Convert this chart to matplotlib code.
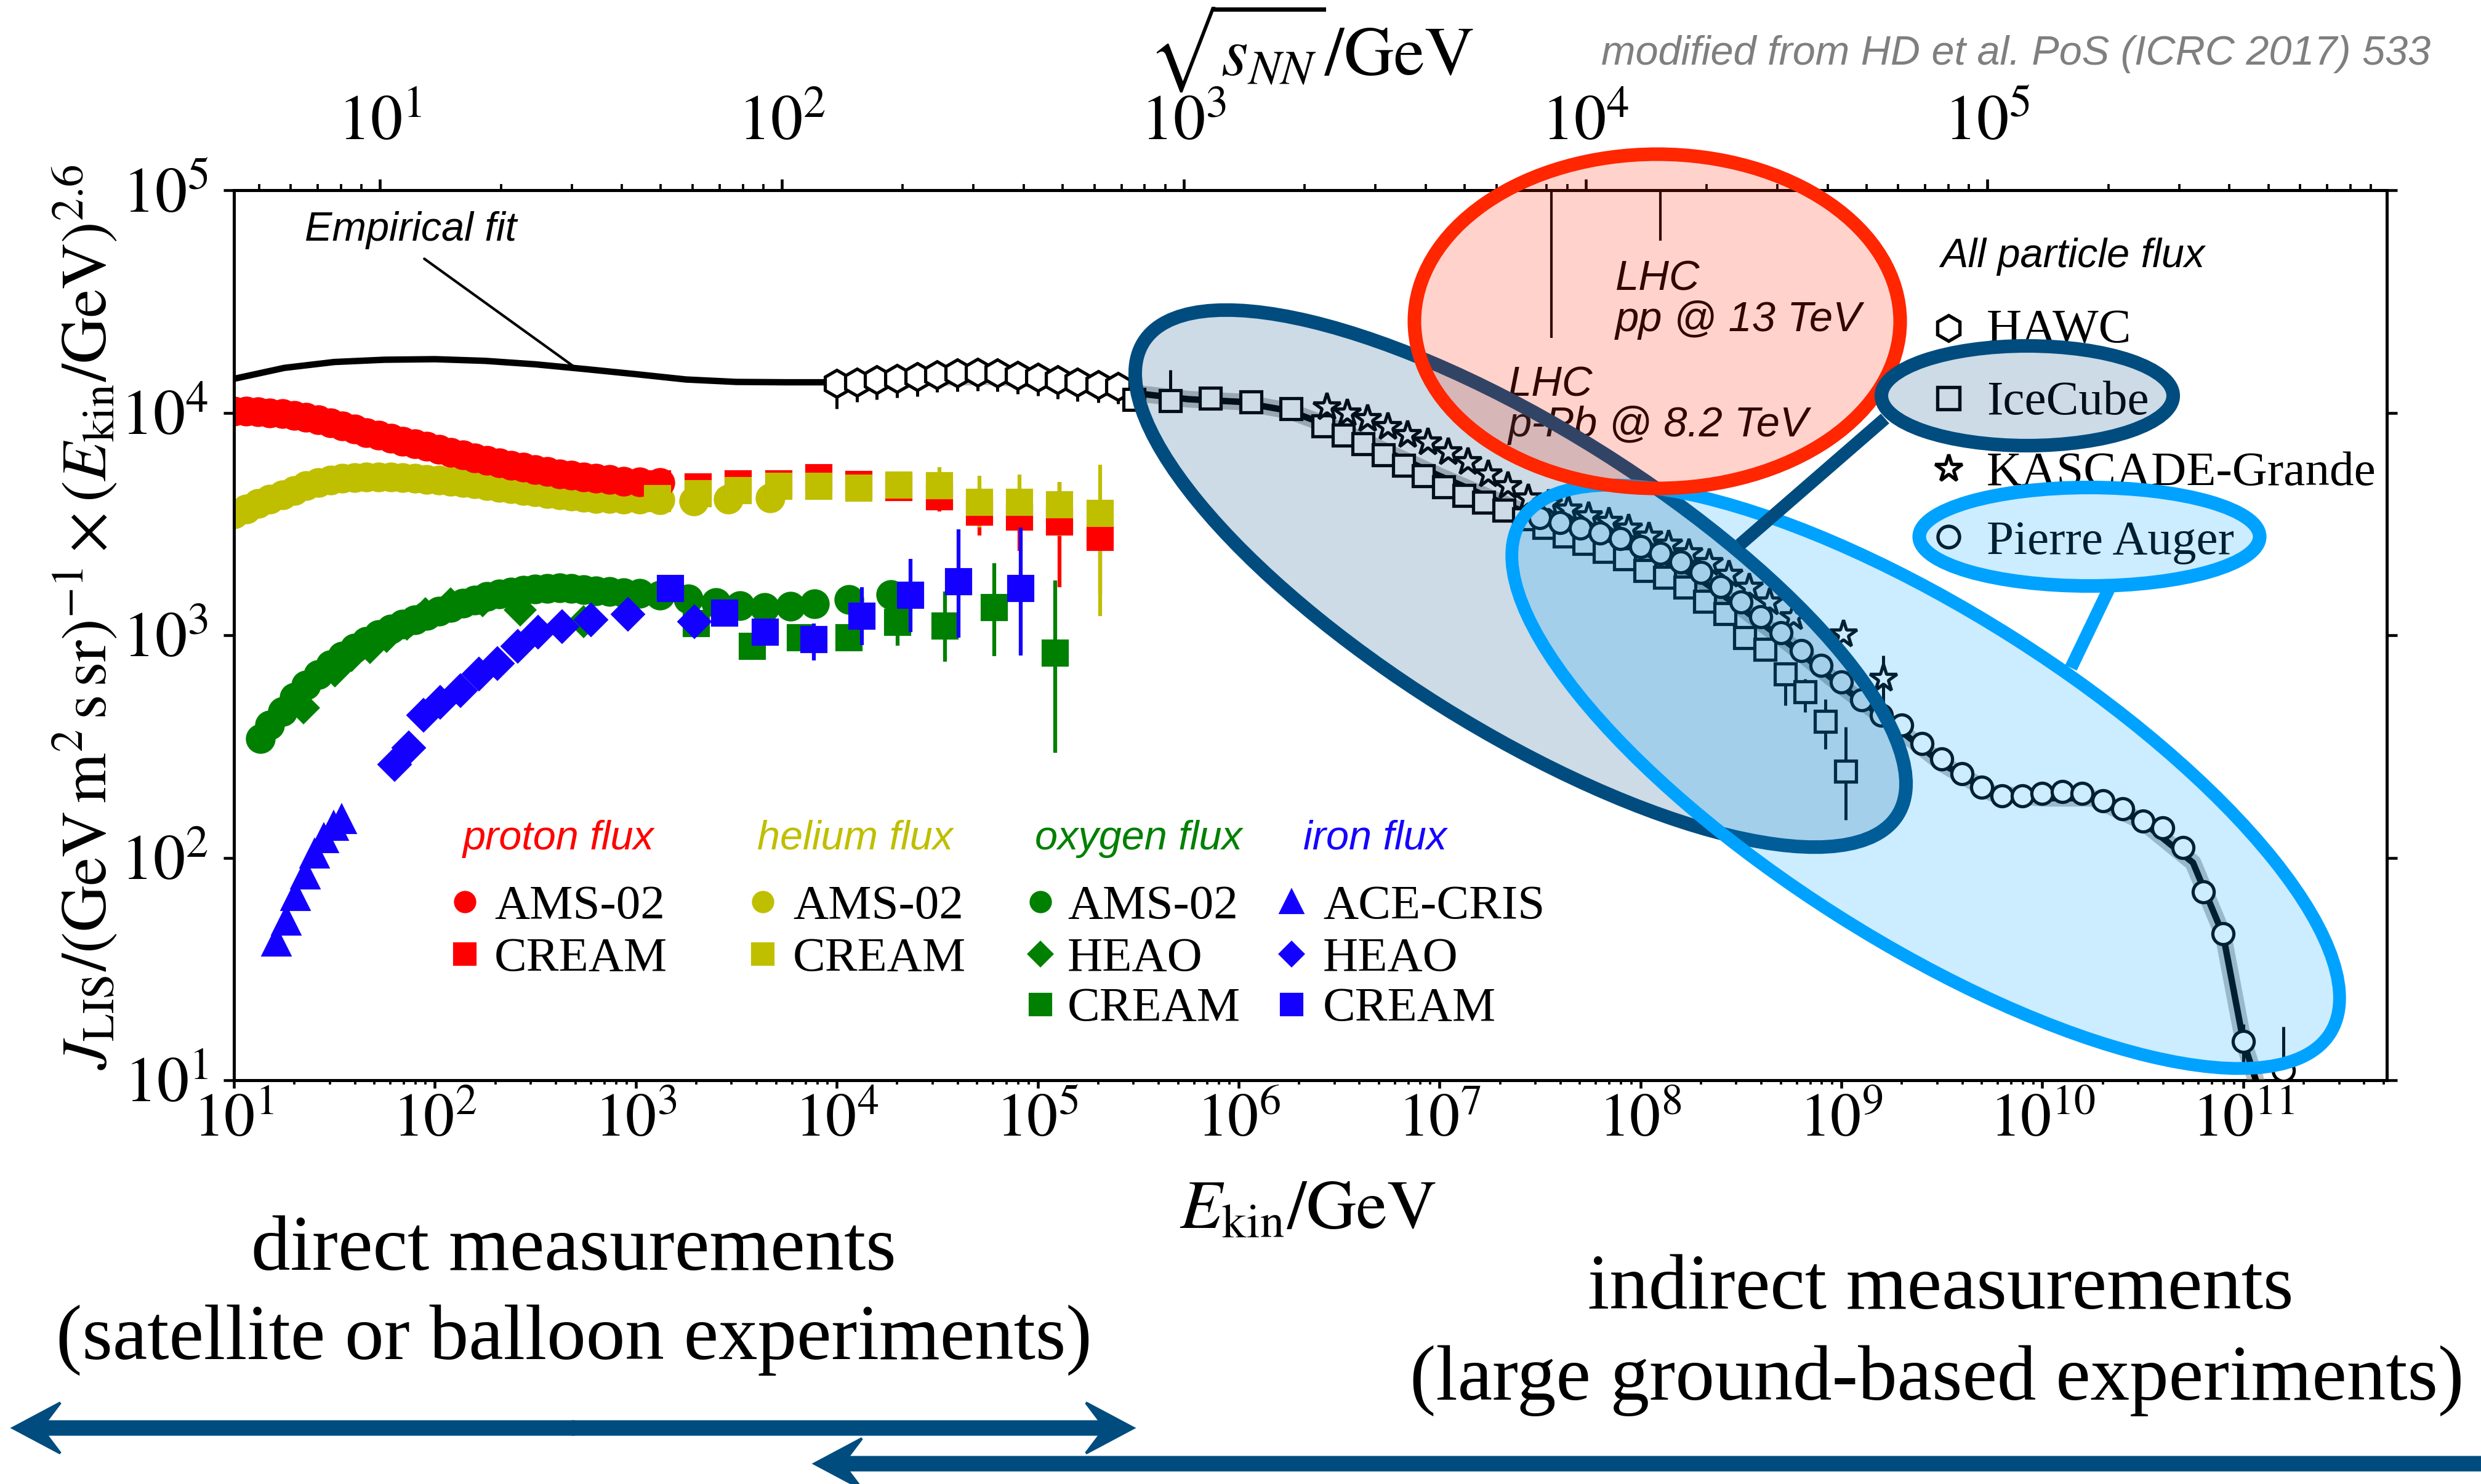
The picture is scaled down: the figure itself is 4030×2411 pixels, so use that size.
import matplotlib
matplotlib.use("Agg")
import numpy as np
import matplotlib.pyplot as plt
from matplotlib.patches import Ellipse, FancyArrow
from matplotlib.lines import Line2D
from matplotlib.transforms import Affine2D
from matplotlib.ticker import LogLocator, FuncFormatter, NullFormatter, NullLocator

plt.rcParams['font.family'] = ['Liberation Serif', 'DejaVu Serif']
plt.rcParams['mathtext.fontset'] = 'stix'

W, H, DPI = 4030, 2411, 300
M_P = 0.938  # GeV, fixed-target conversion for the sqrt(s_NN) axis

RED, OLIVE, GREEN, BLUE = '#ff0000', '#bfbf00', '#008000', '#1400ff'
NAVY, SKY, LHCRED = '#004c7f', '#00a2ff', '#ff2600'
SANS = 'Liberation Sans'

# ---------------- direct measurements (E_kin per particle in GeV, J*E^2.6) ----------------
ams_E = [10.0, 11.5, 13.2, 15.1, 17.4, 20.0, 22.9, 26.3, 30.2, 34.7, 39.8, 45.7,
         52.5, 60.3, 69.2, 79.4, 91.2, 105, 120, 138, 158, 182, 209, 240, 275,
         316, 363, 417, 479, 550, 631, 741, 871, 1047, 1318]
p_ams = [10150, 10150, 10100, 10000, 9880, 9720, 9550, 9300, 9000, 8700, 8420, 8150,
         7950, 7700, 7450, 7250, 7050, 6850, 6650, 6450, 6250, 6090, 5950, 5800, 5700,
         5560, 5440, 5320, 5230, 5150, 5090, 5000, 4930, 4880, 4850]

he_ams_E = ams_E + [1950, 2884, 4677]
he_ams = [3500, 3700, 3900, 4080, 4280, 4480, 4700, 4860, 4990, 5070, 5120, 5150,
          5150, 5130, 5100, 5060, 5020, 4970, 4930, 4860, 4790, 4710, 4620, 4540, 4470,
          4400, 4330, 4260, 4210, 4160, 4120, 4100, 4080, 4080, 4070, 4020, 4080, 4150]

o_ams_E = [13.5, 15.1, 17.4, 20.0, 22.9, 26.3, 30.2, 34.7, 39.8, 45.7, 52.5, 60.3,
           69.2, 79.4, 91.2, 105, 120, 138, 158, 182, 209, 240, 275, 316, 363, 417,
           479, 550, 631, 741, 871, 1047, 1318, 1820, 2512, 3311, 4365, 5888, 7762,
           11480, 18620]
o_ams = [342, 395, 455, 525, 597, 666, 735, 805, 875, 940, 1005, 1065, 1120, 1175,
         1228, 1280, 1335, 1390, 1440, 1490, 1530, 1565, 1590, 1610, 1625, 1630, 1620,
         1600, 1585, 1570, 1555, 1540, 1510, 1460, 1400, 1360, 1335, 1345, 1380, 1450,
         1520]

cream_E = [1282, 2042, 3236, 5129, 8128, 12880, 20420, 32360, 51290, 81280, 128800, 204200]
p_cream = [4780, 4640, 4790, 4790, 5100, 4770, 4620, 4200, 3570, 3400, 3230, 2750]
p_cream_lo = [0, 0, 0, 0, 0, 0, 0, 600, 770, 1010, 1590, 1230]
p_cream_hi = [0, 0, 0, 0, 0, 0, 0, 500, 700, 700, 1650, 850]
he_cream = [4100, 4340, 4460, 4670, 4670, 4580, 4740, 4710, 3970, 3970, 3850, 3520]
he_cream_lo = [0, 0, 0, 0, 0, 0, 0, 1000, 930, 970, 1070, 2300]
he_cream_hi = [0, 0, 0, 0, 0, 0, 0, 970, 1220, 1290, 1030, 2330]

o_heao_E = [22.2, 31.8, 38.5, 47.5, 57.5, 72.6, 89.7, 120, 173, 265, 550]
o_heao = [473, 693, 813, 879, 985, 1120, 1247, 1380, 1425, 1300, 1150]
o_cream_E = [2000, 3800, 6600, 11500, 20100, 34600, 60800, 122000]
o_cream = [1130, 889, 973, 975, 1140, 1100, 1330, 830]
o_cream_lo = [0, 0, 0, 0, 240, 342, 526, 534]
o_cream_hi = [0, 0, 0, 0, 0, 470, 780, 930]

fe_ace_E = [16.3, 18.2, 20.3, 22.6, 25.2, 28.1, 31.3, 34.3]
fe_ace = [42, 52, 67, 84, 104, 122, 139, 149]
fe_heao_E = [63, 74, 88, 106, 134, 166, 205, 258, 326, 430, 598, 914, 1960]
fe_heao = [262, 311, 436, 501, 563, 668, 745, 889, 1030, 1091, 1170, 1240, 1150]
fe_cream_E = [1490, 2770, 4410, 7680, 13300, 23300, 40400, 82200]
fe_cream = [1620, 1260, 1030, 955, 1222, 1515, 1735, 1620]
fe_cream_lo = [0, 0, 0, 186, 320, 485, 762, 811]
fe_cream_hi = [0, 0, 0, 175, 423, 685, 1265, 1420]

# ---------------- all particle flux ----------------
hawc_E = [1.0e4, 1.26e4, 1.58e4, 2.0e4, 2.51e4, 3.16e4, 3.98e4, 5.01e4, 6.31e4,
          7.94e4, 1.0e5, 1.26e5, 1.58e5, 2.0e5, 2.51e5]
hawc = [13550, 13750, 14030, 14280, 14530, 14840, 15060, 15150, 15060, 14730,
        14420, 14030, 13680, 13390, 13150]
hawc_lo = [3100, 2600, 2550, 2600, 2700, 2500, 2600, 2600, 2600, 2600, 2500, 2500,
           2400, 2300, 2200]
hawc_hi = [0, 0, 0, 0, 0, 0, 0, 0, 0, 0, 0, 0, 2000, 2000, 2000]

ice_E = [3.02e5, 4.57e5, 7.24e5, 1.15e6, 1.82e6, 2.63e6, 3.31e6, 4.17e6, 5.25e6,
         6.61e6, 8.32e6, 1.05e7, 1.32e7, 1.66e7, 2.09e7, 2.63e7, 3.31e7, 4.17e7,
         5.25e7, 6.61e7, 8.32e7, 1.05e8, 1.32e8, 1.66e8, 2.09e8, 2.63e8, 3.31e8,
         4.17e8, 5.25e8, 6.61e8, 8.32e8, 1.05e9]
ice = [11490, 11300, 11600, 11150, 10400, 8700, 7950, 7250, 6450, 5800, 5200, 4650,
       4250, 3950, 3650, 3330, 3050, 2780, 2580, 2380, 2200, 1950, 1820, 1640, 1420,
       1250, 975, 865, 668, 556, 410, 245]
ice_lo = [0] * 27 + [60, 183, 106, 103, 97]
ice_hi = [0, 4300] + [0] * 27 + [82, 104, 141]

kg_E = [2.75e6, 3.47e6, 4.37e6, 5.50e6, 6.92e6, 8.71e6, 1.10e7, 1.38e7, 1.74e7,
        2.19e7, 2.75e7, 3.47e7, 4.37e7, 5.50e7, 6.92e7, 8.71e7, 1.10e8, 1.38e8,
        1.74e8, 2.19e8, 2.75e8, 3.47e8, 4.37e8, 5.75e8, 1.02e9, 1.62e9]
kg = [10620, 9980, 9390, 8670, 8000, 7370, 6660, 6010, 5300, 4700, 4150, 3900, 3700,
      3450, 3250, 3030, 2780, 2570, 2350, 2120, 1880, 1640, 1410, 1210, 1010, 640]
kg_lo = [0] * 25 + [150]
kg_hi = [0] * 25 + [170]

auger_E = [3.16e7, 3.98e7, 5.01e7, 6.31e7, 7.94e7, 1.0e8, 1.26e8, 1.58e8, 2.0e8,
           2.51e8, 3.16e8, 3.98e8, 5.01e8, 6.31e8, 7.94e8, 1.0e9, 1.26e9, 1.58e9,
           2.0e9, 2.51e9, 3.16e9, 3.98e9, 5.01e9, 6.31e9, 7.94e9, 1.0e10, 1.26e10,
           1.58e10, 2.0e10, 2.51e10, 3.16e10, 3.98e10, 5.01e10, 6.31e10, 7.94e10,
           1.0e11, 1.58e11]
auger = [3380, 3200, 3020, 2880, 2710, 2510, 2330, 2130, 1910, 1650, 1410, 1210, 1025,
         855, 730, 618, 512, 436, 394, 325, 278, 238, 207, 190, 190, 195, 198, 195,
         180, 166, 146, 136, 111, 70, 45.5, 14.9, 11.1]
auger_lo = [0] * 35 + [3, 1]
auger_hi = [0] * 35 + [3, 6.3]

# empirical fit through all data
fit_E = [10, 17.8, 31.6, 56.2, 100, 178, 316, 562, 1.0e3, 1.78e3, 3.16e3, 5.62e3,
         1.0e4, 1.78e4, 3.16e4, 5.62e4, 1.0e5, 1.78e5, 3.16e5, 5.62e5, 1.0e6, 1.78e6,
         3.16e6, 5.62e6, 1.0e7, 1.78e7, 3.16e7, 5.62e7, 1.0e8, 1.78e8, 3.16e8, 5.62e8,
         1.0e9, 1.78e9, 3.16e9, 5.62e9, 1.0e10, 1.78e10, 3.16e10, 5.62e10, 7.94e10,
         1.0e11, 1.2e11]
fit = [14200, 15900, 16900, 17300, 17400, 17100, 16500, 15700, 14900, 14100, 13750,
       13700, 13700, 14000, 14400, 14500, 14100, 13400, 12200, 11500, 11200, 10200,
       8400, 6600, 5200, 4150, 3350, 2850, 2400, 1900, 1330, 900, 590, 400, 265, 195,
       185, 185, 145, 95, 45, 15, 9]

# LHC energies marked on the plot (lab-frame equivalent) and line lengths
lhc_E = [3.6e7, 1.26e8]
lhc_bottom = [21700, 59400]

# decade ticks
e_ticks = [1e1, 1e2, 1e3, 1e4, 1e5, 1e6, 1e7, 1e8, 1e9, 1e10, 1e11]
j_ticks = [1e1, 1e2, 1e3, 1e4, 1e5]
s_ticks = [1e1, 1e2, 1e3, 1e4, 1e5]

# ---------------- figure ----------------
fig = plt.figure(figsize=(W / DPI, H / DPI), dpi=DPI)
PX = Affine2D().scale(1.0 / DPI, -1.0 / DPI).translate(0, H / DPI) + fig.dpi_scale_trans

ax = fig.add_axes([380 / W, 1 - 1755 / H, 3497 / W, 1446 / H])
ax.set_xscale('log')
ax.set_yscale('log')
ax.set_xlim(10, 5.18e11)
ax.set_ylim(10, 1e5)

dec = FuncFormatter(lambda v, pos: r'$10^{%d}$' % round(np.log10(v)))
ax.set_xticks(e_ticks)
ax.xaxis.set_minor_locator(LogLocator(base=10, subs=np.arange(2, 10), numticks=20))
ax.xaxis.set_major_formatter(dec)
ax.xaxis.set_minor_formatter(NullFormatter())
ax.set_yticks(j_ticks)
ax.yaxis.set_minor_locator(NullLocator())
ax.yaxis.set_major_formatter(dec)
ax.tick_params(axis='x', which='major', direction='out', length=3.2, width=1.1,
               labelsize=24, pad=2, top=False)
ax.tick_params(axis='x', which='minor', direction='out', length=1.6, width=0.9, top=False)
ax.tick_params(axis='y', which='major', direction='out', length=4.0, width=1.1,
               labelsize=25, pad=6, left=True, right=True)
for s in ax.spines.values():
    s.set_linewidth(1.2)

secax = ax.secondary_xaxis('top', functions=(lambda e: np.sqrt(2 * M_P * np.clip(e, 1e-30, None)),
                                             lambda s: np.asarray(s) ** 2 / (2 * M_P)))
secax.set_xticks(s_ticks)
secax.xaxis.set_minor_locator(LogLocator(base=10, subs=np.arange(2, 10), numticks=20))
secax.xaxis.set_major_formatter(dec)
secax.xaxis.set_minor_formatter(NullFormatter())
secax.tick_params(which='major', direction='out', length=4.3, width=1.1, labelsize=25, pad=10)
secax.tick_params(which='minor', direction='out', length=2.4, width=0.9)
secax.spines['top'].set_linewidth(1.2)

# direct measurements
AMS_MS = 10.6
ax.plot(he_ams_E, he_ams, 'o', ms=AMS_MS, color=OLIVE, mec=OLIVE, zorder=2.0)
ax.plot(ams_E, p_ams, 'o', ms=AMS_MS, color=RED, mec=RED, zorder=2.1)
ax.errorbar(cream_E, p_cream, yerr=[p_cream_lo, p_cream_hi], fmt='s', ms=9.6, color=RED,
            elinewidth=1.5, capsize=0, zorder=2.2)
ax.errorbar(cream_E, he_cream, yerr=[he_cream_lo, he_cream_hi], fmt='s', ms=9.6,
            color=OLIVE, elinewidth=1.5, capsize=0, zorder=2.3)
ax.plot(o_ams_E, o_ams, 'o', ms=AMS_MS, color=GREEN, mec=GREEN, zorder=2.4)
ax.plot(o_heao_E, o_heao, 'D', ms=8.0, color=GREEN, mec=GREEN, zorder=2.5)
ax.errorbar(o_cream_E, o_cream, yerr=[o_cream_lo, o_cream_hi], fmt='s', ms=9.6,
            color=GREEN, elinewidth=1.5, capsize=0, zorder=2.6)
ax.plot(fe_ace_E, fe_ace, '^', ms=10.5, color=BLUE, mec=BLUE, zorder=2.7)
ax.plot(fe_heao_E, fe_heao, 'D', ms=8.0, color=BLUE, mec=BLUE, mew=1.5, zorder=2.8)
ax.errorbar(fe_cream_E, fe_cream, yerr=[fe_cream_lo, fe_cream_hi], fmt='s', ms=9.6,
            color=BLUE, elinewidth=1.5, capsize=0, zorder=2.9)

# empirical fit
fit_E_arr, fit_arr = np.array(fit_E), np.array(fit)
hi = fit_E_arr >= 1e4
ax.plot(fit_E_arr[hi], fit_arr[hi], color='0.45', lw=6.5, alpha=0.45,
        solid_capstyle='butt', zorder=2.95)
ax.plot(fit_E, fit, color='k', lw=2.5, zorder=3.0)

# all particle flux
open_kw = dict(mfc='white', mec='black', color='black', mew=1.25, ls='none',
               elinewidth=1.2, capsize=0)
ax.errorbar(hawc_E, hawc, yerr=[hawc_lo, hawc_hi], fmt='h', ms=10.5, zorder=3.5, **open_kw)
ax.errorbar(ice_E, ice, yerr=[ice_lo, ice_hi], fmt='s', ms=8, zorder=3.6, **open_kw)
ax.errorbar(kg_E, kg, yerr=[kg_lo, kg_hi], fmt='*', ms=11, zorder=3.7, **open_kw)
ax.errorbar(auger_E, auger, yerr=[auger_lo, auger_hi], fmt='o', ms=8.2, zorder=3.8, **open_kw)

ax.vlines(lhc_E, lhc_bottom, 1e5, color='k', lw=1.0, zorder=3)

ax.annotate('Empirical fit', xy=(488, 16200), xytext=(76, 66200), ha='center',
            va='center', fontsize=16, family=SANS, style='italic',
            arrowprops=dict(arrowstyle='-', color='k', lw=1.0, shrinkA=3, shrinkB=0,
                            relpos=(0.5, 0.0)))

# axis titles
fig.text(138, 1003, r'$J_\mathrm{LIS}/(\mathrm{GeV\,m^2\,s\,sr})^{-1}\times(E_\mathrm{kin}/\mathrm{GeV})^{2.6}$',
         transform=PX, rotation=90, ha='center', va='center', fontsize=25)
fig.text(2125, 1995, r'$E_\mathrm{kin}/\mathrm{GeV}$', transform=PX, ha='center',
         va='baseline', fontsize=27)
fig.text(2130, 122, r'$\sqrt{s_{NN}}/\mathrm{GeV}$', transform=PX, ha='center',
         va='baseline', fontsize=27)
fig.text(3948, 105, 'modified from HD et al. PoS (ICRC 2017) 533', transform=PX,
         ha='right', va='baseline', fontsize=16, family=SANS, style='italic',
         color='#7f7f7f')

# LHC labels (sit under the red highlight)
for x, y, s in [(2624, 472, 'LHC'), (2624, 538, 'pp @ 13 TeV'),
                (2450, 643, 'LHC'), (2450, 709, 'p-Pb @ 8.2 TeV')]:
    fig.text(x, y, s, transform=PX, fontsize=16.5, family=SANS, style='italic',
             va='baseline', zorder=1)

# legend for the direct measurements
groups = [
    ('proton flux', RED, 752, 755, 803, [('o', 7.7, 'AMS-02'), ('s', 8.0, 'CREAM')]),
    ('helium flux', OLIVE, 1230, 1239, 1288, [('o', 7.7, 'AMS-02'), ('s', 8.0, 'CREAM')]),
    ('oxygen flux', GREEN, 1681, 1690, 1734,
     [('o', 7.7, 'AMS-02'), ('D', 6.6, 'HEAO'), ('s', 8.0, 'CREAM')]),
    ('iron flux', BLUE, 2117, 2098, 2149,
     [('^', 8.6, 'ACE-CRIS'), ('D', 6.6, 'HEAO'), ('s', 8.0, 'CREAM')]),
]
row_mid = [1465, 1550, 1632]
row_base = [1492, 1577, 1658]
for title, col, tx, mx, lx, rows in groups:
    fig.text(tx, 1380, title, transform=PX, color=col, fontsize=16, family=SANS,
             style='italic', va='baseline', zorder=1)
    for i, (mk, ms, lab) in enumerate(rows):
        fig.add_artist(Line2D([mx], [row_mid[i]], marker=mk, ms=ms, color=col,
                              ls='none', transform=PX, zorder=1))
        fig.text(lx, row_base[i], lab, transform=PX, fontsize=19, va='baseline', zorder=1)

# legend for the all particle flux
fig.text(3152, 434, 'All particle flux', transform=PX, fontsize=16, family=SANS,
         style='italic', va='baseline', zorder=1)
for (mk, ms, lab), ym, yb in zip([('h', 10, 'HAWC'), ('s', 8.5, 'IceCube'),
                                   ('*', 11, 'KASCADE-Grande'), ('o', 8.4, 'Pierre Auger')],
                                  [533, 647, 761, 872], [556, 673, 788, 900]):
    fig.add_artist(Line2D([3165], [ym], marker=mk, ms=ms, mfc='white', mec='black',
                          mew=1.3, ls='none', transform=PX, zorder=1))
    fig.text(3227, yb, lab, transform=PX, fontsize=19, va='baseline', zorder=1)

# highlight ellipses
def blob(cx, cy, w, h, ang, col, lw, z):
    fig.add_artist(Ellipse((cx, cy), w, h, angle=ang, transform=PX,
                           facecolor=matplotlib.colors.to_rgba(col, 0.2),
                           edgecolor=col, lw=lw, zorder=z))

blob(2470, 940, 1446, 488, 32.1, NAVY, 5.3, 2)
blob(3128, 1262, 1556, 534, 32.4, SKY, 5.0, 3)
blob(2692, 522, 789, 543, 0, LHCRED, 5.3, 4)
fig.add_artist(Line2D([3062, 2826], [680, 885], color=NAVY, lw=5, transform=PX,
                      solid_capstyle='butt', zorder=5))
fig.add_artist(Line2D([3425, 3364], [958, 1085], color=SKY, lw=5, transform=PX,
                      solid_capstyle='butt', zorder=5))
blob(3293, 643, 474, 162, 0, NAVY, 5.3, 5)
blob(3394, 872, 553, 160, 0, SKY, 5.3, 5)

# experiment classes along the energy axis
for x, y, s in [(932, 2063, 'direct measurements'),
                (932, 2208, '(satellite or balloon experiments)'),
                (3152, 2126, 'indirect measurements'),
                (3146, 2274, '(large ground-based experiments)')]:
    fig.text(x, y, s, transform=PX, ha='center', va='baseline', fontsize=30.5, zorder=6)

akw = dict(width=21, head_width=82, head_length=77, length_includes_head=True,
           overhang=0.3, color=NAVY, transform=PX, zorder=6)
fig.add_artist(FancyArrow(931, 2320, -910, 0, **akw))
fig.add_artist(FancyArrow(931, 2320, 910, 0, **akw))
fig.add_artist(FancyArrow(4080, 2378, -2757, 0, **akw))

fig.savefig('out.png', dpi=DPI)
